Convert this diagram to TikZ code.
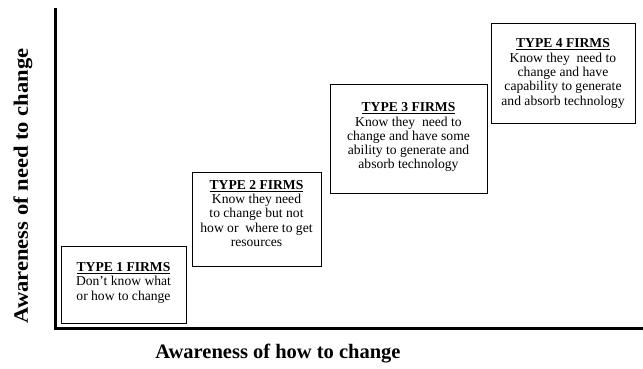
\documentclass[tikz,border=0pt]{standalone}
\usepackage{fontspec}
\setmainfont{Liberation Serif}
\usetikzlibrary{positioning}

\newcommand{\firmhead}[1]{\textbf{\underline{#1}}}

\begin{document}
\begin{tikzpicture}[
    x=1pt, y=-1pt,
    firmbox/.style={draw, line width=1pt, align=center, inner sep=0pt, font=\fontsize{13.6}{14.3}\selectfont},
    axislabel/.style={font=\fontsize{20.5}{24}\selectfont\bfseries},
    axisline/.style={line width=3pt}
]
    \useasboundingbox (0,0) rectangle (643,369);

    % Axes
    \coordinate (origin) at (55,328);
    \coordinate (ytop) at (55,8);
    \coordinate (xend) at (643,328);
    \draw[axisline] (ytop) -- (origin) -- (xend);

    % Axis labels
    \node[axislabel, rotate=90] (ylab) at (23,186) {\scalebox{1.1}[1]{Awareness of need to change}};
    \node[axislabel] (xlab) at (278,354) {Awareness of how to change};

    % Firm types
    \node[firmbox, minimum width=125, minimum height=77] (type1) at (123.5,284.5)
        {\firmhead{TYPE 1 FIRMS}\\Don't know what\\or how to change\\[-8pt]};
    \node[firmbox, minimum width=129, minimum height=94] (type2) at (256.5,219)
        {\firmhead{TYPE 2 FIRMS}\\Know they need\\to change but not\\how or\ \ where to get\\resources\\[-3pt]};
    \node[firmbox, minimum width=157, minimum height=108] (type3) at (408.5,139)
        {\firmhead{TYPE 3 FIRMS}\\Know they\ \ need to\\change and have some\\ability to generate and\\absorb technology\\[-8pt]};
    \node[firmbox, minimum width=144, minimum height=99] (type4) at (563,73.5)
        {\firmhead{TYPE 4 FIRMS}\\Know they\ \ need to\\change and have\\capability to generate\\and absorb technology};

\end{tikzpicture}
\end{document}
